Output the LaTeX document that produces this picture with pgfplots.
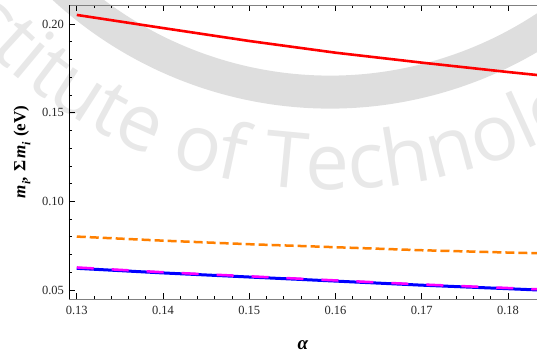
\documentclass[border=0pt]{standalone}
\usepackage{fontspec}
\setmainfont{Liberation Serif}
\newfontfamily\wmfont{Open Sans}
\usepackage{pgfplots}
\pgfplotsset{compat=1.18}
\usetikzlibrary{decorations.text}
\definecolor{mred}{RGB}{255,0,0}
\definecolor{morange}{RGB}{255,128,0}
\definecolor{mmag}{RGB}{255,0,255}
\definecolor{mblue}{RGB}{0,0,255}
\begin{document}
\begin{tikzpicture}
\begin{scope}
\clip (-69pt,-57pt) rectangle (468pt,299pt);
\draw[line width=33pt, black!13] ([shift={(200:392pt)}]261pt,599pt) arc[start angle=200, end angle=340, radius=392pt];
\path[decorate, decoration={text along path, text align=right, text color=black!9,
  text={|\wmfont\fontsize{78}{78}\selectfont|Institute of}}]
  ([shift={(180:490pt)}]261pt,599pt) arc[start angle=180, end angle=259.5, radius=490pt];
\path[decorate, decoration={text along path, text align=left, text color=black!9,
  text={|\wmfont\fontsize{78}{78}\selectfont|Technology}}]
  ([shift={(262.1:490pt)}]261pt,599pt) arc[start angle=262.1, end angle=340, radius=490pt];
\end{scope}
\begin{axis}[
  at={(0pt,0pt)}, anchor=south west,
  scale only axis, width=468pt, height=294pt,
  xmin=0.1291, xmax=0.18336, ymin=0.0449, ymax=0.2107,
  axis x line*=box, axis y line*=left,
  x axis line style={black!50, line width=0.8pt},
  y axis line style={black, line width=0.8pt},
  xtick={0.13,0.14,0.15,0.16,0.17,0.18},
  ytick={0.05,0.10,0.15,0.20},
  minor x tick num=4, minor y tick num=4,
  major tick length=6pt, minor tick length=3.5pt,
  tick style={black, line width=0.6pt},
  scaled ticks=false,
  /pgf/number format/fixed, /pgf/number format/fixed zerofill,
  /pgf/number format/precision=2,
  /pgf/number format/assume math mode=true,
  ticklabel style={font=\fontsize{12.5}{14}\selectfont, text=black!85},
  xticklabel style={yshift=-4pt},
  yticklabel style={xshift=-1.5pt},
  xlabel={\textbf{\textit{α}}},
  ylabel={\textbf{\textit{m}}\raisebox{-0.3em}{\fontsize{12}{12}\selectfont\textbf{\textit{i}}}\textbf{,}\hspace{0.35em}\textbf{Σ}\hspace{0.1em}\textbf{\textit{m}}\raisebox{-0.3em}{\fontsize{12}{12}\selectfont\textbf{\textit{i}}}\hspace{0.3em}\textbf{(eV)}},
  every axis x label/.style={at={(axis description cs:0.5,-0.1565)}, anchor=center, font=\fontsize{19}{19}\selectfont},
  every axis y label/.style={at={(axis description cs:-0.1004,0.5)}, rotate=90, anchor=center, font=\fontsize{17}{17}\selectfont},
]
\addplot[mred, line width=2.6pt] coordinates {
 (0.13,0.2051) (0.14,0.1977) (0.15,0.1904) (0.16,0.1838) (0.17,0.1782) (0.18,0.1729) (0.1834,0.1712)};
\addplot[morange, line width=2.5pt, dash pattern=on 9pt off 4pt] coordinates {
 (0.13,0.0801) (0.14,0.0778) (0.15,0.0758) (0.16,0.0741) (0.17,0.0724) (0.18,0.0711) (0.1834,0.0707)};
\addplot[mblue, line width=3pt] coordinates {
 (0.13,0.0622) (0.14,0.0596) (0.15,0.0573) (0.16,0.0550) (0.17,0.0527) (0.18,0.0507) (0.1834,0.0500)};
\addplot[mmag, line width=2.5pt, dash pattern=on 17pt off 18pt] coordinates {
 (0.13,0.0627) (0.14,0.0600) (0.15,0.0577) (0.16,0.0554) (0.17,0.0531) (0.18,0.0511) (0.1834,0.0504)};
\end{axis}
\pgfresetboundingbox
\useasboundingbox (-69pt,-57pt) rectangle (468pt,299pt);
\end{tikzpicture}
\end{document}
